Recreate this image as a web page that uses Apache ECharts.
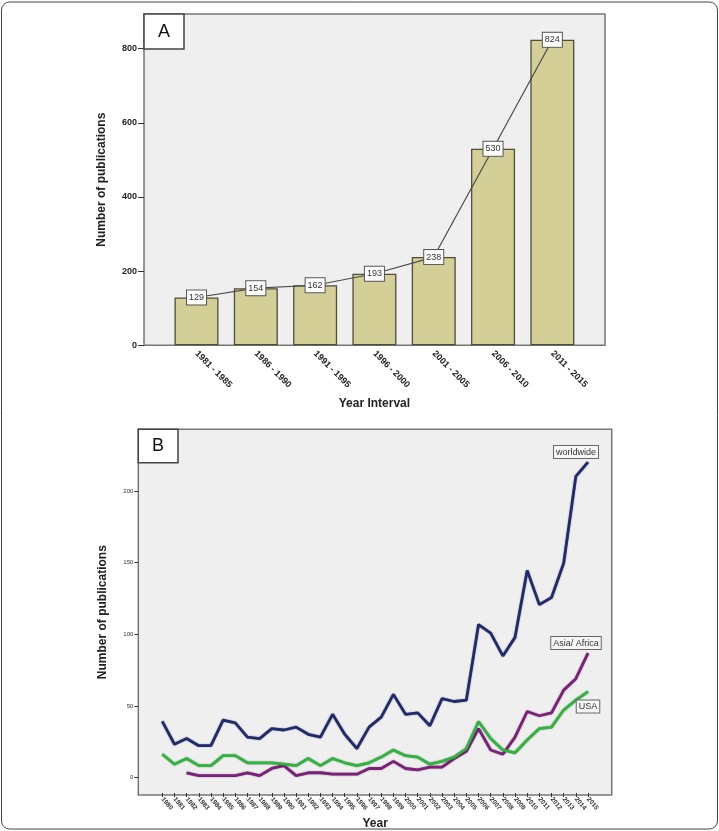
<!DOCTYPE html>
<html>
<head>
<meta charset="utf-8">
<script src="https://cdn.jsdelivr.net/npm/echarts@6/dist/echarts.min.js"></script>
<style>
html, body { margin: 0; padding: 0; background: #fff; }
#chart { width: 719px; height: 831px; }
</style>
</head>
<body>
<div id="chart"></div>
<script>
// panel A: publications per 5-year interval
const intervals = ["1981 - 1985", "1986 - 1990", "1991 - 1995", "1996 - 2000", "2001 - 2005", "2006 - 2010", "2011 - 2015"];
const intervalCounts = [129, 154, 162, 193, 238, 530, 824];
const ticksA = [0, 200, 400, 600, 800];

// panel B: publications per year
const years = ["1980", "1981", "1982", "1983", "1984", "1985", "1986", "1987", "1988", "1989",
	"1990", "1991", "1992", "1993", "1994", "1995", "1996", "1997", "1998", "1999",
	"2000", "2001", "2002", "2003", "2004", "2005", "2006", "2007", "2008", "2009",
	"2010", "2011", "2012", "2013", "2014", "2015"];
const worldwide = [38, 22, 26, 21, 21, 39, 37, 27, 26, 33, 32, 34, 29, 27, 43, 29, 19, 34, 41, 57,
	43, 44, 35, 54, 52, 53, 106, 100, 84, 97, 144, 120, 125, 149, 210, 220];
const usa = [15, 8, 12, 7, 7, 14, 14, 9, 9, 9, 8, 7, 12, 7, 12, 9, 7, 9, 13, 18,
	14, 13, 8, 10, 13, 19, 38, 26, 18, 16, 25, 33, 34, 46, 53, 59];
const asiaAfrica = [null, null, 2, 0, 0, 0, 0, 2, 0, 5, 7, 0, 2, 2, 1, 1, 1, 5, 5, 10,
	5, 4, 6, 6, 12, 17, 33, 18, 15, 27, 45, 42, 44, 60, 68, 86];
const ticksB = [0, 50, 100, 150, 200];

const font = "Liberation Sans, Arial, sans-serif";
const myChart = echarts.init(document.getElementById("chart"));

// label box on the last point of a line
const endLabel = (values, text, offset) =>
	values.map((v, i) => i === values.length - 1 ? { value: v, label: { show: true, formatter: text, offset: offset } } : v);

const boxLabel = {
	show: false,
	position: "inside",
	fontFamily: font,
	fontSize: 9,
	color: "#333",
	backgroundColor: "#f6f6f6",
	borderColor: "#666",
	borderWidth: 1,
	padding: [1, 2, 1, 2],
	lineHeight: 10
};

const titleStyle = { fontFamily: font, fontSize: 12, fontWeight: "bold", color: "#222" };

// SPSS style lines have a darker rim
const trendLine = color => ({ color: color, width: 2.8, shadowColor: "rgba(0,0,0,0.45)", shadowBlur: 1.5 });

const option = {
	animation: false,
	grid: [
		// frames
		{ left: 144, top: 14, width: 461, height: 331.3, show: true, backgroundColor: "#efefef", borderColor: "#777", borderWidth: 1.5 },
		{ left: 166.85, top: 14, width: 415.15, height: 331.3 },
		{ left: 138.3, top: 429.3, width: 473.4, height: 365.7, show: true, backgroundColor: "#efefef", borderColor: "#777", borderWidth: 1.5 },
		{ left: 162.3, top: 429.3, width: 425.7, height: 365.7 }
	],
	xAxis: [
		{ gridIndex: 0, type: "value", show: false, min: 0, max: 1 },
		{
			gridIndex: 1,
			type: "category",
			data: intervals,
			axisLine: { show: false, onZero: false },
			axisTick: { alignWithLabel: true, length: 6, lineStyle: { color: "#333", width: 1 } },
			axisLabel: { interval: 0, rotate: -45, margin: 7, fontFamily: font, fontSize: 9, fontWeight: "bold", color: "#222" },
			name: "Year Interval",
			nameLocation: "middle",
			nameGap: 52,
			nameTextStyle: titleStyle
		},
		{ gridIndex: 2, type: "value", show: false, min: 0, max: 1 },
		{
			gridIndex: 3,
			type: "category",
			data: years,
			boundaryGap: false,
			axisLine: { show: false, onZero: false },
			axisTick: { length: 4, lineStyle: { color: "#333", width: 1 } },
			axisLabel: { interval: 0, rotate: -50, margin: 5, fontFamily: font, fontSize: 6.5, fontWeight: "bold", color: "#333" },
			name: "Year",
			nameLocation: "middle",
			nameGap: 25,
			nameTextStyle: titleStyle
		}
	],
	yAxis: [
		{
			gridIndex: 0,
			type: "value",
			min: 0,
			max: 893.6,
			axisLine: { show: false, onZero: false },
			splitLine: { show: false },
			axisTick: { show: true, customValues: ticksA, length: 6, lineStyle: { color: "#333", width: 1 } },
			axisLabel: { customValues: ticksA, margin: 7, fontFamily: font, fontSize: 9, fontWeight: "bold", color: "#222" },
			name: "Number of publications",
			nameLocation: "middle",
			nameGap: 36,
			nameTextStyle: titleStyle
		},
		{ gridIndex: 1, type: "value", min: 0, max: 893.6, show: false },
		{
			gridIndex: 2,
			type: "value",
			min: -12.2,
			max: 243,
			axisLine: { show: false, onZero: false },
			splitLine: { show: false },
			axisTick: { show: true, customValues: ticksB, length: 4, lineStyle: { color: "#333", width: 1 } },
			axisLabel: { customValues: ticksB, margin: 5, fontFamily: font, fontSize: 6, color: "#333" },
			name: "Number of publications",
			nameLocation: "middle",
			nameGap: 30,
			nameTextStyle: titleStyle
		},
		{ gridIndex: 3, type: "value", min: -12.2, max: 243, show: false }
	],
	graphic: [
		{ type: "rect", silent: true, z: 0, shape: { x: 1.5, y: 2, width: 716, height: 827, r: 8 }, style: { fill: "none", stroke: "#444", lineWidth: 1 } },
		{ type: "rect", silent: true, z: 100, shape: { x: 144, y: 14, width: 40, height: 35 }, style: { fill: "#fff", stroke: "#444", lineWidth: 1.5 } },
		{ type: "text", silent: true, z: 101, x: 164, y: 32, style: { text: "A", font: "18px " + font, fill: "#111", textAlign: "center", textVerticalAlign: "middle" } },
		{ type: "rect", silent: true, z: 100, shape: { x: 138.3, y: 429.3, width: 39.7, height: 33.4 }, style: { fill: "#fff", stroke: "#444", lineWidth: 1.5 } },
		{ type: "text", silent: true, z: 101, x: 158, y: 446.5, style: { text: "B", font: "18px " + font, fill: "#111", textAlign: "center", textVerticalAlign: "middle" } }
	],
	series: [
		{
			type: "bar",
			xAxisIndex: 1,
			yAxisIndex: 1,
			data: intervalCounts,
			barWidth: 44,
			itemStyle: { color: "#d3cf97", borderColor: "#4d4d3a", borderWidth: 1.3 }
		},
		{
			type: "line",
			xAxisIndex: 1,
			yAxisIndex: 1,
			data: intervalCounts,
			symbol: "circle",
			symbolSize: 1,
			lineStyle: { color: "#4a4a4a", width: 1.2 },
			itemStyle: { color: "#4a4a4a" },
			label: {
				show: true,
				position: "inside",
				fontFamily: font,
				fontSize: 9,
				color: "#333",
				backgroundColor: "#fff",
				borderColor: "#555",
				borderWidth: 1,
				padding: [2, 2, 1, 2],
				lineHeight: 11
			},
			z: 3
		},
		{
			name: "worldwide",
			type: "line",
			xAxisIndex: 3,
			yAxisIndex: 3,
			data: endLabel(worldwide, "worldwide", [-12, -10]),
			symbol: "circle",
			symbolSize: 0,
			showAllSymbol: true,
			lineStyle: trendLine("#1f2b6e"),
			itemStyle: { color: "#1f2b6e" },
			label: boxLabel
		},
		{
			name: "Asia/ Africa",
			type: "line",
			xAxisIndex: 3,
			yAxisIndex: 3,
			data: endLabel(asiaAfrica, "Asia/ Africa", [-12, -10]),
			symbol: "circle",
			symbolSize: 0,
			showAllSymbol: true,
			lineStyle: trendLine("#7e1f7c"),
			itemStyle: { color: "#7e1f7c" },
			label: boxLabel
		},
		{
			name: "USA",
			type: "line",
			xAxisIndex: 3,
			yAxisIndex: 3,
			data: endLabel(usa, "USA", [0, 15]),
			symbol: "circle",
			symbolSize: 0,
			showAllSymbol: true,
			lineStyle: trendLine("#2db53c"),
			itemStyle: { color: "#2db53c" },
			label: boxLabel
		}
	]
};
myChart.setOption(option);
</script>
</body>
</html>
